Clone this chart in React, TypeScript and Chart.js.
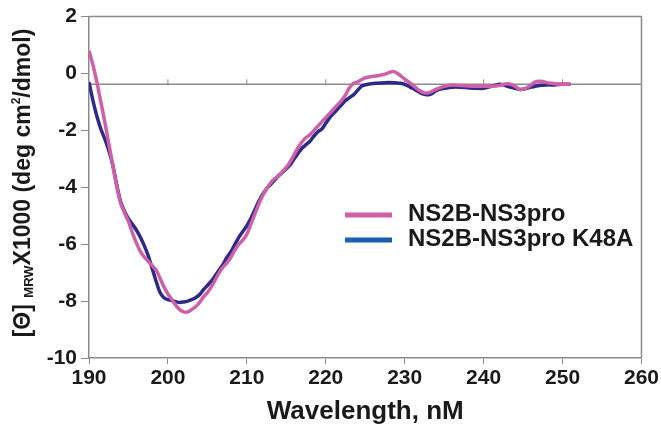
import React, { useEffect, useRef } from "react";
import { Chart, registerables } from "chart.js";

Chart.register(...registerables);

const FONT = "'Liberation Sans', Arial, Helvetica, sans-serif";

const SERIES_NAMES = ["NS2B-NS3pro", "NS2B-NS3pro K48A"];
const LINE_COLORS = ["#cf5fa6", "#2d2a8a"];
const LEGEND_COLORS = ["#cf5fa6", "#1760ad"];

const X_TITLE = "Wavelength, nM";
const X_MIN = 190;
const X_MAX = 260;
const Y_MIN = -10;
const Y_MAX = 2;
const BASELINE = -0.38;
const BASELINE_TICKS = [200, 210, 220, 230, 240, 250];

const pinkNm = [
  190, 190.5, 191, 191.5, 192, 192.5, 193, 193.5, 194, 194.5, 195, 195.5, 196, 196.5, 197, 197.5,
  198, 198.5, 199, 199.5, 200, 200.5, 201, 201.5, 202, 202.5, 203, 203.5, 204, 204.5, 205, 205.5,
  206, 206.5, 207, 207.5, 208, 208.5, 209, 209.5, 210, 210.5, 211, 211.5, 212, 212.5, 213, 213.5,
  214, 214.5, 215, 215.5, 216, 216.5, 217, 217.5, 218, 218.5, 219, 219.5, 220, 220.5, 221, 221.5,
  222, 222.5, 223, 223.5, 224, 224.5, 225, 225.5, 226, 226.5, 227, 227.5, 228, 228.5, 229, 229.5,
  230, 230.5, 231, 231.5, 232, 232.5, 233, 233.5, 234, 234.5, 235, 235.5, 236, 237, 238, 239, 240,
  241, 242, 242.5, 243, 243.5, 244, 244.5, 245, 245.5, 246, 246.5, 247, 247.5, 248, 248.5, 249, 250,
  251,
];
const pinkVal = [
  0.8, 0.3, -0.3, -1.0, -1.7, -2.45, -3.2, -3.95, -4.55, -4.9, -5.2, -5.6, -5.95, -6.25, -6.45, -6.6,
  -6.75, -6.9, -7.2, -7.5, -7.75, -7.95, -8.15, -8.3, -8.38, -8.38, -8.3, -8.2, -8.05, -7.85, -7.7, -7.5,
  -7.25, -7.0, -6.8, -6.65, -6.45, -6.2, -6.0, -5.85, -5.65, -5.3, -4.95, -4.6, -4.3, -4.05, -3.85, -3.7,
  -3.6, -3.45, -3.3, -3.1, -2.85, -2.6, -2.4, -2.25, -2.15, -2.0, -1.85, -1.7, -1.55, -1.4, -1.25, -1.1,
  -0.95, -0.75, -0.5, -0.35, -0.3, -0.22, -0.15, -0.12, -0.1, -0.08, -0.05, -0.02, 0.03, 0.07, 0.02, -0.08,
  -0.2, -0.3, -0.4, -0.52, -0.62, -0.68, -0.68, -0.62, -0.55, -0.5, -0.45, -0.42, -0.4, -0.42, -0.44, -0.45, -0.45,
  -0.45, -0.42, -0.38, -0.36, -0.38, -0.45, -0.55, -0.55, -0.5, -0.4, -0.3, -0.27, -0.28, -0.32, -0.34, -0.36, -0.38,
  -0.38,
];

const blueNm = [
  190, 190.5, 191, 191.5, 192, 192.5, 193, 193.5, 194, 194.5, 195, 195.5, 196, 196.5, 197, 197.5,
  198, 198.5, 199, 199.5, 200, 200.5, 201, 201.5, 202, 202.5, 203, 203.5, 204, 204.5, 205, 205.5,
  206, 206.5, 207, 207.5, 208, 208.5, 209, 209.5, 210, 210.5, 211, 211.5, 212, 212.5, 213, 213.5,
  214, 214.5, 215, 215.5, 216, 216.5, 217, 217.5, 218, 218.5, 219, 219.5, 220, 220.5, 221, 221.5,
  222, 222.5, 223, 223.5, 224, 224.5, 225, 225.5, 226, 227, 228, 229, 229.5, 230, 230.5, 231, 231.5,
  232, 232.5, 233, 233.5, 234, 234.5, 235, 236, 237, 238, 239, 240, 241, 242, 242.5, 243, 244, 244.5,
  245, 246, 247, 248, 249, 250, 251,
];
const blueVal = [
  -0.3, -0.95, -1.5, -1.95, -2.3, -2.7, -3.2, -3.9, -4.5, -4.85, -5.1, -5.3, -5.5, -5.75, -6.05, -6.4,
  -6.85, -7.3, -7.7, -7.88, -7.95, -7.98, -8.02, -8.05, -8.03, -8.0, -7.95, -7.88, -7.78, -7.6, -7.45, -7.3,
  -7.1, -6.9, -6.7, -6.45, -6.25, -6.0, -5.75, -5.55, -5.35, -5.1, -4.8, -4.5, -4.25, -4.05, -3.9, -3.75,
  -3.6, -3.48, -3.35, -3.2, -3.0, -2.8, -2.62, -2.5, -2.38, -2.2, -2.05, -1.95, -1.75, -1.55, -1.4, -1.25,
  -1.1, -0.95, -0.85, -0.75, -0.6, -0.45, -0.4, -0.37, -0.35, -0.33, -0.32, -0.33, -0.34, -0.38, -0.45, -0.52, -0.6,
  -0.68, -0.73, -0.75, -0.7, -0.6, -0.55, -0.52, -0.48, -0.48, -0.5, -0.52, -0.52, -0.45, -0.38, -0.4, -0.45, -0.52, -0.56,
  -0.55, -0.48, -0.42, -0.4, -0.4, -0.38, -0.38,
];

const AXIS_GREY = "#8a8a8a";

const framePlugin = {
  id: "frame",
  beforeDatasetsDraw(chart: any) {
    const { ctx, chartArea, scales } = chart;
    const x = scales.x;
    const y = scales.y;
    ctx.save();
    ctx.strokeStyle = AXIS_GREY;
    ctx.lineWidth = 1.5;
    ctx.beginPath();
    ctx.moveTo(chartArea.left, chartArea.top);
    ctx.lineTo(chartArea.right, chartArea.top);
    ctx.lineTo(chartArea.right, chartArea.bottom);
    ctx.stroke();
    const by = y.getPixelForValue(BASELINE);
    ctx.beginPath();
    ctx.moveTo(chartArea.left, by);
    ctx.lineTo(chartArea.right, by);
    ctx.stroke();
    ctx.lineWidth = 1;
    for (const t of BASELINE_TICKS) {
      const px = x.getPixelForValue(t);
      ctx.beginPath();
      ctx.moveTo(px, by - 5);
      ctx.lineTo(px, by + 1);
      ctx.stroke();
    }
    ctx.restore();
  },
  afterDraw(chart: any) {
    const { ctx } = chart;
    ctx.save();
    const lx0 = 345, lx1 = 392, tx = 408;
    const rows = [215, 240];
    ctx.font = `bold 24px ${FONT}`;
    ctx.textBaseline = "middle";
    ctx.textAlign = "left";
    SERIES_NAMES.forEach((name, i) => {
      ctx.strokeStyle = LEGEND_COLORS[i];
      ctx.lineWidth = 5;
      ctx.beginPath();
      ctx.moveTo(lx0, rows[i]);
      ctx.lineTo(lx1, rows[i]);
      ctx.stroke();
      ctx.fillStyle = "#1a1a1a";
      ctx.fillText(name, tx, rows[i] - 1);
    });

    const parts: { t: string; size: number; dy: number }[] = [
      { t: "[Θ] ", size: 23, dy: 0 },
      { t: "MRW", size: 13, dy: 3 },
      { t: "X1000 (deg cm", size: 23, dy: 0 },
      { t: "2", size: 12, dy: -10 },
      { t: "/dmol)", size: 23, dy: 0 },
    ];
    let total = 0;
    for (const p of parts) {
      ctx.font = `bold ${p.size}px ${FONT}`;
      total += ctx.measureText(p.t).width;
    }
    const cy = 183;
    ctx.translate(30, cy);
    ctx.rotate(-Math.PI / 2);
    ctx.textBaseline = "alphabetic";
    let cx = -total / 2;
    ctx.fillStyle = "#1a1a1a";
    for (const p of parts) {
      ctx.font = `bold ${p.size}px ${FONT}`;
      ctx.fillText(p.t, cx, p.dy);
      cx += ctx.measureText(p.t).width;
    }
    ctx.restore();
  },
};

export default function App() {
  const canvasRef = useRef<HTMLCanvasElement | null>(null);

  useEffect(() => {
    const canvas = canvasRef.current;
    if (!canvas) return;
    const pink = pinkNm.map((x, i) => ({ x, y: pinkVal[i] }));
    const blue = blueNm.map((x, i) => ({ x, y: blueVal[i] }));
    const chart = new Chart(canvas, {
      type: "line",
      data: {
        datasets: [
          {
            label: SERIES_NAMES[0],
            data: pink,
            borderColor: LINE_COLORS[0],
            borderWidth: 3.5,
            pointRadius: 0,
            tension: 0.25,
            fill: false,
          },
          {
            label: SERIES_NAMES[1],
            data: blue,
            borderColor: LINE_COLORS[1],
            borderWidth: 3.5,
            pointRadius: 0,
            tension: 0.25,
            fill: false,
          },
        ],
      },
      options: {
        animation: false,
        responsive: false,
        layout: { padding: { top: 15, right: 19, left: 0, bottom: 0 } },
        plugins: { legend: { display: false }, tooltip: { enabled: false } },
        scales: {
          x: {
            type: "linear",
            min: X_MIN,
            max: X_MAX,
            ticks: {
              stepSize: 10,
              color: "#1a1a1a",
              font: { family: FONT, size: 21, weight: "bold" },
              padding: 2,
              maxRotation: 0,
            },
            grid: {
              drawOnChartArea: false,
              drawTicks: true,
              tickLength: 6,
              color: AXIS_GREY,
              lineWidth: 1,
            },
            border: { display: true, color: AXIS_GREY, width: 1.5 },
            title: {
              display: true,
              text: X_TITLE,
              color: "#1a1a1a",
              font: { family: FONT, size: 26, weight: "bold" },
              padding: { top: 0, bottom: 4 },
            },
            afterFit(scale: any) {
              scale.height = 73;
            },
          },
          y: {
            min: Y_MIN,
            max: Y_MAX,
            ticks: {
              stepSize: 2,
              color: "#1a1a1a",
              font: { family: FONT, size: 21, weight: "bold" },
              padding: 4,
            },
            grid: {
              drawOnChartArea: false,
              drawTicks: true,
              tickLength: 8,
              color: AXIS_GREY,
              lineWidth: 1,
            },
            border: { display: true, color: AXIS_GREY, width: 1.5 },
            afterFit(scale: any) {
              scale.width = 89;
            },
          },
        },
      },
      plugins: [framePlugin],
    } as any);
    return () => chart.destroy();
  }, []);

  return (
    <div style={{ position: "absolute", left: 0, top: 0, width: 661, height: 431, background: "#fff" }}>
      <canvas ref={canvasRef} width={661} height={431} />
    </div>
  );
}
